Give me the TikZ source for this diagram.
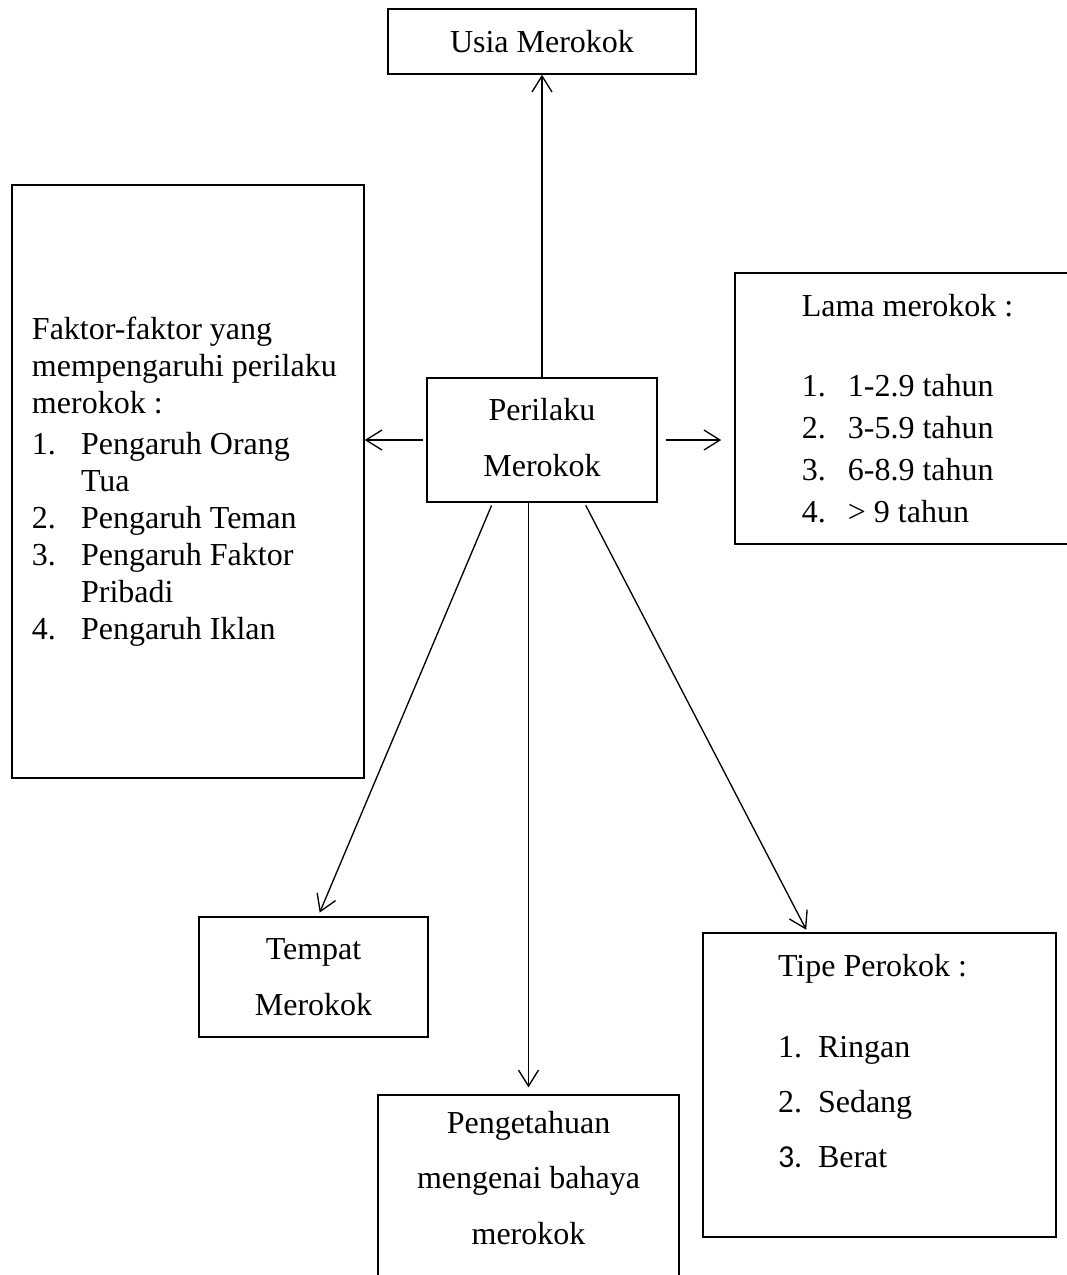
\documentclass[tikz,border=0pt]{standalone}
\usepackage{fontspec}
\setmainfont{Liberation Serif}
\newfontfamily\calibrifont{Carlito}
\usetikzlibrary{arrows.meta,positioning,calc}
\newcommand{\nmr}[2][18.4pt]{\makebox[#1][l]{#2}}
\tikzset{
  sz/.style 2 args={minimum width=#1*0.375pt, minimum height=#2*0.375pt},
  bx/.style={draw=black, line width=0.55pt, inner sep=0pt, font=\fontsize{12}{20.8}\selectfont, align=center},
  lst/.style={bx, align=flush left},
  arr/.style={-{Straight Barb[length=6pt,width=7.5pt]}, line width=0.5pt},
}
\begin{document}
\begin{tikzpicture}[x=0.375pt, y=-0.375pt]
  \useasboundingbox (0,0) rectangle (1067,1275);
  \clip (0,0) rectangle (1067,1275);
  \node[bx, sz={308}{65}] (usia) at (542,41.5) {Usia Merokok};
  \node[bx, sz={230}{124}] (per) at (542,440) {Perilaku\\Merokok\rule[-2pt]{0pt}{2pt}};
  \node[lst, sz={352}{593}, font=\fontsize{12}{13.9}\selectfont, text width=312*0.375pt] (fak) at (188,481.5)
    {Faktor-faktor yang\\
     mempengaruhi perilaku\\
     merokok :\\[1.5pt]
     \nmr{1.}Pengaruh Orang\\
     \hspace*{18.4pt}Tua\\
     \nmr{2.}Pengaruh Teman\\
     \nmr{3.}Pengaruh Faktor\\
     \hspace*{18.4pt}Pribadi\\
     \nmr{4.}Pengaruh Iklan};
  \node[lst, sz={345}{271}, font=\fontsize{12}{15.75}\selectfont] (lama) at (907.5,408.5)
    {Lama merokok :\\[14pt]
     \nmr[17.3pt]{1.}1-2.9 tahun\\
     \nmr[17.3pt]{2.}3-5.9 tahun\\
     \nmr[17.3pt]{3.}6-8.9 tahun\\
     \nmr[17.3pt]{4.}> 9 tahun};
  \node[bx, sz={229}{120}] (tmp) at (313.5,977) {Tempat\\Merokok};
  \node[bx, sz={301}{220}] (peng) at (528.5,1205)
    {Pengetahuan\\mengenai bahaya\\merokok\rule[-20.6pt]{0pt}{20.6pt}};
  \node[lst, sz={353}{304}, font=\fontsize{12}{20.6}\selectfont, text width=203*0.375pt] (tipe) at (879.5,1085)
    {Tipe Perokok :\\[10pt]
     \nmr[15pt]{1.}Ringan\\
     \nmr[15pt]{2.}Sedang\\
     \nmr[15pt]{\calibrifont 3.}Berat\rule[-18pt]{0pt}{18pt}};
  \draw[arr] (per.north) -- (usia.south);
  \draw[arr, shorten <=1.1pt] (per.west) -- (per.west -| fak.east);
  \draw[arr, shorten <=3pt, shorten >=4.9pt] (per.east) -- (per.east -| lama.west);
  \draw[arr, shorten <=1.1pt, shorten >=1.5pt] ($(per.south west)!0.287!(per.south east)$) -- ($(tmp.north west)!0.52!(tmp.north east)$);
  \draw[arr, shorten >=2.6pt] (per.south -| peng.north) -- (peng.north);
  \draw[arr, shorten <=1.1pt, shorten >=1.1pt] ($(per.south west)!0.683!(per.south east)$) -- ($(tipe.north west)!0.297!(tipe.north east)$);
\end{tikzpicture}
\end{document}
